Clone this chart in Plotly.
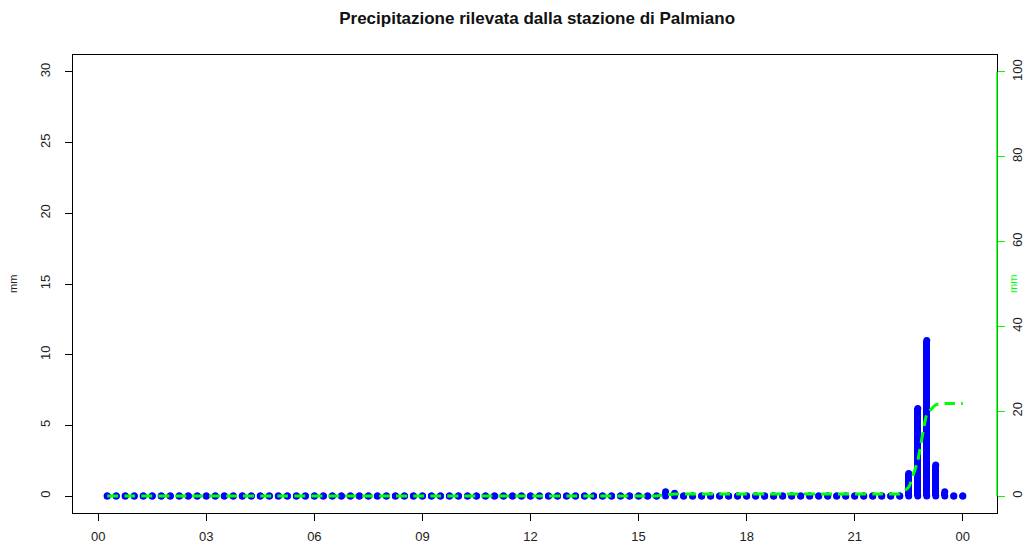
import numpy as np
import plotly.graph_objects as go

# 15-minute readings, 00:15 .. 24:00 (hours)
hours = [0.25 * i for i in range(1, 97)]

# rainfall per 15-minute interval (mm), one row per 3 hours
rain_mm = [
    0, 0, 0, 0, 0, 0, 0, 0, 0, 0, 0, 0,          # 00:15 - 03:00
    0, 0, 0, 0, 0, 0, 0, 0, 0, 0, 0, 0,          # 03:15 - 06:00
    0, 0, 0, 0, 0, 0, 0, 0, 0, 0, 0, 0,          # 06:15 - 09:00
    0, 0, 0, 0, 0, 0, 0, 0, 0, 0, 0, 0,          # 09:15 - 12:00
    0, 0, 0, 0, 0, 0, 0, 0, 0, 0, 0, 0,          # 12:15 - 15:00
    0, 0, 0.3, 0.2, 0, 0, 0, 0, 0, 0, 0, 0,      # 15:15 - 18:00
    0, 0, 0, 0, 0, 0, 0, 0, 0, 0, 0, 0,          # 18:15 - 21:00
    0, 0, 0, 0, 0, 1.6, 6.2, 11.0, 2.2, 0.3, 0, 0,  # 21:15 - 24:00
]

cumulative_mm = np.cumsum(rain_mm)

x_tick_vals = [0, 3, 6, 9, 12, 15, 18, 21, 24]
x_tick_text = ["00", "03", "06", "09", "12", "15", "18", "21", "00"]
left_ticks = [0, 5, 10, 15, 20, 25, 30]
right_ticks = [0, 20, 40, 60, 80, 100]

BLUE = "#0000FF"
GREEN = "#00FF00"
TEXT = "#222222"
FONT = "Liberation Sans, Arial, Helvetica, sans-serif"

fig = go.Figure()

# thick vertical bars with rounded ends
fig.add_trace(go.Bar(
    x=hours, y=rain_mm, width=0.19,
    marker=dict(color=BLUE, line=dict(width=0)),
    showlegend=False, hoverinfo="skip",
))
fig.add_trace(go.Scatter(
    x=hours, y=[0] * len(hours), mode="markers",
    marker=dict(color=BLUE, size=7, line=dict(width=0)),
    showlegend=False, hoverinfo="skip",
))
fig.add_trace(go.Scatter(
    x=hours, y=rain_mm, mode="markers",
    marker=dict(color=BLUE, size=7, line=dict(width=0)),
    showlegend=False,
))

# cumulative rainfall on the secondary axis
fig.add_trace(go.Scatter(
    x=hours, y=cumulative_mm, mode="lines", yaxis="y2",
    line=dict(color=GREEN, width=3, dash="11px,6px", shape="spline", smoothing=0.3),
    showlegend=False,
))

fig.update_layout(
    width=1029, height=550,
    margin=dict(l=73, r=32, t=55, b=37, autoexpand=False),
    paper_bgcolor="white", plot_bgcolor="white",
    font=dict(family=FONT, size=13, color=TEXT),
    bargap=0,
    title=dict(
        text="<b>Precipitazione rilevata dalla stazione di Palmiano</b>",
        x=0.522, xanchor="center", y=0.967, yanchor="middle",
        font=dict(family=FONT, size=17, color="#111111"),
    ),
    xaxis=dict(
        range=[-0.7, 24.95], tickvals=x_tick_vals, ticktext=x_tick_text,
        showgrid=False, zeroline=False, automargin=False,
        showline=True, mirror=True, linecolor="black", linewidth=1.3,
        ticks="outside", ticklen=7, tickcolor="black", tickwidth=1.3,
        tickfont=dict(size=13, color=TEXT), ticklabelstandoff=4,
    ),
    yaxis=dict(
        range=[-1.2, 31.2], tickvals=left_ticks,
        showgrid=False, zeroline=False, automargin=False,
        showline=True, mirror=True, linecolor="black", linewidth=1.3,
        ticks="outside", ticklen=7, tickcolor="black", tickwidth=1.3,
        tickangle=-90, tickfont=dict(size=13, color=TEXT),
        ticklabelstandoff=10,
    ),
    yaxis2=dict(
        range=[-4, 104], tickvals=right_ticks, overlaying="y", side="right",
        showgrid=False, zeroline=False, showline=False, automargin=False,
        ticks="outside", ticklen=7, tickcolor=GREEN, tickwidth=1.3,
        tickangle=-90, tickfont=dict(size=13, color=TEXT),
        ticklabelstandoff=1,
    ),
    shapes=[dict(
        type="line", xref="paper", yref="y2", x0=1, x1=1, y0=0, y1=100,
        line=dict(color=GREEN, width=1.5),
    )],
    annotations=[
        dict(text="mm", xref="paper", yref="paper", x=0, y=0.5,
             xanchor="center", yanchor="middle", xshift=-60, textangle=-90,
             showarrow=False, font=dict(size=11, color=TEXT)),
        dict(text="mm", xref="paper", yref="paper", x=1, y=0.5,
             xanchor="center", yanchor="middle", xshift=16, textangle=-90,
             showarrow=False, font=dict(size=11, color=GREEN)),
    ],
)

fig.write_html("out.html")
